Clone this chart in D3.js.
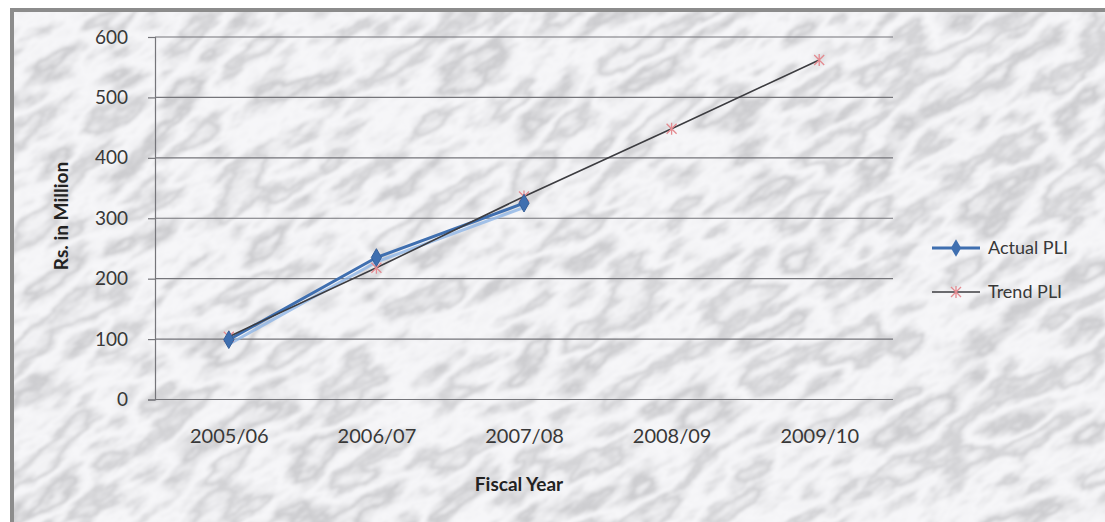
<!DOCTYPE html>
<html>
<head>
<meta charset="utf-8">
<script src="https://cdn.jsdelivr.net/npm/d3@7/dist/d3.min.js"></script>
<style>
  html, body { margin: 0; padding: 0; background: #ffffff; }
  svg { display: block; }
  text { font-family: Lato, "Liberation Sans", sans-serif; }
</style>
</head>
<body>
<svg id="chart" width="1105" height="522"></svg>
<script>
// Chart data
const fiscalYears = ["2005/06", "2006/07", "2007/08", "2008/09", "2009/10"];
const actualPLI = [99, 235, 325];            // first three years
const trendPLI = [104, 218, 336, 448, 562];  // all five years
const yTicks = [0, 100, 200, 300, 400, 500, 600];
const seriesNames = ["Actual PLI", "Trend PLI"];

const W = 1105, H = 522;
const plot = { left: 155, right: 893, top: 37, bottom: 399.5 };
const textColor = "#383838";

const svg = d3.select("#chart");
const defs = svg.append("defs");

// Marble texture: noise turned into grey veins
const f = defs.append("filter").attr("id", "marble")
  .attr("filterUnits", "userSpaceOnUse")
  .attr("x", -600).attr("y", -600).attr("width", 2400).attr("height", 1800);
f.append("feTurbulence").attr("type", "fractalNoise")
  .attr("baseFrequency", "0.011 0.028").attr("numOctaves", 5).attr("seed", 11).attr("result", "n");
f.append("feColorMatrix").attr("type", "matrix")
  .attr("values", "1 0 0 0 0  1 0 0 0 0  1 0 0 0 0  0 0 0 0 1").attr("result", "g");
const ct = f.append("feComponentTransfer").attr("result", "m");
const table = "0.68 0.85 0.90 0.79 0.60 0.76 0.89 0.93 0.83 0.64 0.79 0.90 0.87 0.70 0.84";
ct.append("feFuncR").attr("type", "table").attr("tableValues", table);
ct.append("feFuncG").attr("type", "table").attr("tableValues", table);
ct.append("feFuncB").attr("type", "table").attr("tableValues", table.split(" ").map(v => Math.min(1, +v + 0.02)).join(" "));
f.append("feGaussianBlur").attr("in", "m").attr("stdDeviation", 0.8);

defs.append("clipPath").attr("id", "frameClip")
  .append("rect").attr("x", 10).attr("y", 8).attr("width", W - 10).attr("height", H - 8);

const bg = svg.append("g");
bg.append("rect").attr("x", 10).attr("y", 8).attr("width", W - 10).attr("height", H - 8).attr("fill", "#d8d8db");
bg.append("g").attr("clip-path", "url(#frameClip)")
  .append("rect")
  .attr("x", -400).attr("y", -400).attr("width", 2000).attr("height", 1400)
  .attr("transform", "rotate(-32 550 260)")
  .attr("filter", "url(#marble)");

// Frame edges
svg.append("rect").attr("x", 10).attr("y", 8).attr("width", W - 10).attr("height", 4).attr("fill", "#8c8c8c");
svg.append("rect").attr("x", 10).attr("y", 8).attr("width", 4).attr("height", H - 8).attr("fill", "#8c8c8c");

// Scales
const x = d3.scalePoint().domain(fiscalYears).range([plot.left, plot.right]).padding(0.5);
const y = d3.scaleLinear().domain([0, 600]).range([plot.bottom, plot.top]);

// Gridlines
svg.append("g")
  .selectAll("line").data(yTicks.filter(d => d > 0)).join("line")
  .attr("x1", plot.left).attr("x2", plot.right)
  .attr("y1", d => y(d)).attr("y2", d => y(d))
  .attr("stroke", "#75757a").attr("stroke-width", 1.2);

// Y axis
const yAxis = svg.append("g").attr("transform", `translate(${plot.left},0)`)
  .call(d3.axisLeft(y).tickValues(yTicks).tickSize(7).tickPadding(20));
yAxis.select(".domain").attr("stroke", "#75757a").attr("stroke-width", 1.2);
yAxis.selectAll(".tick line").attr("stroke", "#75757a").attr("stroke-width", 1.2);
yAxis.selectAll(".tick text")
  .attr("font-size", 19).attr("fill", textColor)
  .attr("font-family", "Lato, sans-serif");

// X axis
const xAxis = svg.append("g").attr("transform", `translate(0,${plot.bottom})`)
  .call(d3.axisBottom(x).tickSize(0).tickPadding(29));
xAxis.select(".domain").attr("stroke", "#75757a").attr("stroke-width", 1.2)
  .attr("d", `M${plot.left},0H${plot.right}`);
xAxis.selectAll(".tick text")
  .attr("font-size", 20).attr("fill", textColor)
  .attr("font-family", "Lato, sans-serif");

// Axis titles
svg.append("text")
  .attr("transform", "translate(68,216) rotate(-90)")
  .attr("text-anchor", "middle")
  .attr("font-size", 19).attr("font-weight", "bold").attr("fill", "#222")
  .text("Rs. in Million");
svg.append("text")
  .attr("x", 519).attr("y", 491)
  .attr("text-anchor", "middle")
  .attr("font-size", 19).attr("font-weight", "bold").attr("fill", "#222")
  .text("Fiscal Year");

// Series
const actualData = actualPLI.map((v, i) => ({ year: fiscalYears[i], value: v }));
const trendData = trendPLI.map((v, i) => ({ year: fiscalYears[i], value: v }));
const line = d3.line().x(d => x(d.year)).y(d => y(d.value));

const blue = "#3f6fb0";
const diamond = d3.symbol().type(d3.symbolDiamond).size(90);

// Actual: soft shadow line then main line
svg.append("path").datum(actualData)
  .attr("d", line).attr("transform", "translate(1,4)")
  .attr("fill", "none").attr("stroke", "#8fb5e6").attr("stroke-width", 3).attr("opacity", 0.8);
svg.append("path").datum(actualData)
  .attr("d", line)
  .attr("fill", "none").attr("stroke", blue).attr("stroke-width", 3);

// Trend line
svg.append("path").datum(trendData)
  .attr("d", line)
  .attr("fill", "none").attr("stroke", "#3c3c40").attr("stroke-width", 1.6);

// Star markers for trend
function starMarker(g, cx, cy, s) {
  g.append("path")
    .attr("d", `M${cx - s},${cy - s}L${cx + s},${cy + s}M${cx - s},${cy + s}L${cx + s},${cy - s}M${cx},${cy - s - 1}L${cx},${cy + s + 1}`)
    .attr("stroke", "#e48a90").attr("stroke-width", 1.3).attr("fill", "none");
}
const tm = svg.append("g");
trendData.forEach(d => starMarker(tm, x(d.year), y(d.value), 5));

// Diamond markers for actual
svg.append("g").selectAll("path").data(actualData).join("path")
  .attr("d", diamond)
  .attr("transform", d => `translate(${x(d.year)},${y(d.value)})`)
  .attr("fill", blue).attr("stroke", "#355f99").attr("stroke-width", 1);

// Legend
const legend = svg.append("g");
const legY = [248, 292];
legend.append("line").attr("x1", 932).attr("x2", 980).attr("y1", legY[0]).attr("y2", legY[0])
  .attr("stroke", blue).attr("stroke-width", 3);
legend.append("path").attr("d", diamond).attr("transform", `translate(956,${legY[0]})`)
  .attr("fill", blue);
legend.append("line").attr("x1", 932).attr("x2", 980).attr("y1", legY[1]).attr("y2", legY[1])
  .attr("stroke", "#3c3c40").attr("stroke-width", 1.6);
starMarker(legend, 956, legY[1], 5);
legend.selectAll("text").data(seriesNames).join("text")
  .attr("x", 988).attr("y", (d, i) => legY[i] + 6)
  .attr("font-size", 18).attr("fill", textColor)
  .text(d => d);
</script>
</body>
</html>
